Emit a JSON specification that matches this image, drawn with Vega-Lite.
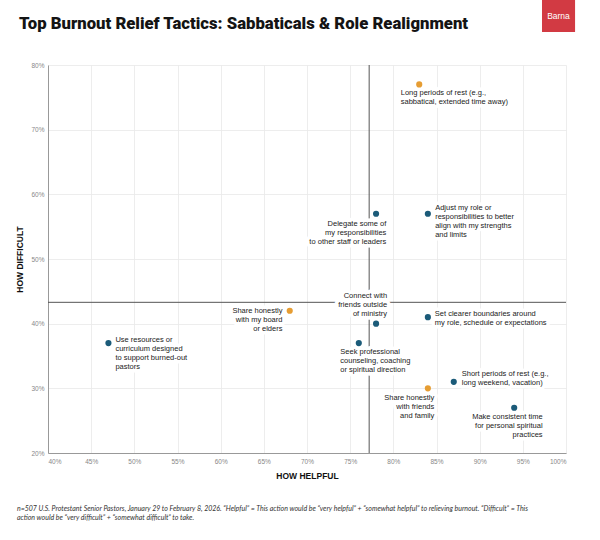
{
  "$schema": "https://vega.github.io/schema/vega-lite/v6.json",
  "description": "Top Burnout Relief Tactics: Sabbaticals & Role Realignment",
  "width": 518,
  "height": 388,
  "autosize": {"type": "none"},
  "padding": {"left": 48, "top": 65, "right": 34, "bottom": 87},
  "background": "white",
  "config": {"view": {"stroke": null}, "font": "Liberation Sans"},
  "datasets": {
    "tactics": [
      {"tactic": "Long periods of rest (e.g.,\nsabbatical, extended time away)", "helpful": 0.83, "difficult": 0.77, "highlight": "yes"},
      {"tactic": "Delegate some of\nmy responsibilities\nto other staff or leaders", "helpful": 0.78, "difficult": 0.57, "highlight": "no"},
      {"tactic": "Adjust my role or\nresponsibilities to better\nalign with my strengths\nand limits", "helpful": 0.84, "difficult": 0.57, "highlight": "no"},
      {"tactic": "Share honestly\nwith my board\nor elders", "helpful": 0.68, "difficult": 0.42, "highlight": "yes"},
      {"tactic": "Connect with\nfriends outside\nof ministry", "helpful": 0.78, "difficult": 0.40, "highlight": "no"},
      {"tactic": "Set clearer boundaries around\nmy role, schedule or expectations", "helpful": 0.84, "difficult": 0.41, "highlight": "no"},
      {"tactic": "Use resources or\ncurriculum designed\nto support burned-out\npastors", "helpful": 0.47, "difficult": 0.37, "highlight": "no"},
      {"tactic": "Seek professional\ncounseling, coaching\nor spiritual direction", "helpful": 0.76, "difficult": 0.37, "highlight": "no"},
      {"tactic": "Short periods of rest (e.g.,\nlong weekend, vacation)", "helpful": 0.87, "difficult": 0.31, "highlight": "no"},
      {"tactic": "Share honestly\nwith friends\nand family", "helpful": 0.84, "difficult": 0.30, "highlight": "yes"},
      {"tactic": "Make consistent time\nfor personal spiritual\npractices", "helpful": 0.94, "difficult": 0.27, "highlight": "no"}
    ]
  },
  "data": {"name": "tactics"},
  "layer": [
    {
      "mark": {"type": "point", "opacity": 0},
      "encoding": {
        "x": {"field": "helpful", "type": "quantitative", "title": "HOW HELPFUL",
          "scale": {"domain": [0.4, 1], "nice": false, "zero": false},
          "axis": {"values": [0.4,0.45,0.5,0.55,0.6,0.65,0.7,0.75,0.8,0.85,0.9,0.95,1.0], "format": ".0%",
            "ticks": false, "labelPadding": 5, "labelFontSize": 6.5, "labelColor": "#888", "labelFont": "Liberation Sans",
            "domainColor": "#999", "domainWidth": 1, "gridColor": "#e8e8e8", "gridWidth": 0.8,
            "titleFont": "Liberation Sans", "titleFontSize": 8.5, "titleFontWeight": "bold", "titleColor": "#111", "titlePadding": 7}},
        "y": {"field": "difficult", "type": "quantitative", "title": "HOW DIFFICULT",
          "scale": {"domain": [0.2, 0.8], "nice": false, "zero": false},
          "axis": {"values": [0.2,0.3,0.4,0.5,0.6,0.7,0.8], "format": ".0%",
            "ticks": false, "labelPadding": 4, "labelFontSize": 6.5, "labelColor": "#888", "labelFont": "Liberation Sans",
            "domainColor": "#999", "domainWidth": 1, "gridColor": "#e8e8e8", "gridWidth": 0.8,
            "titleFont": "Liberation Sans", "titleFontSize": 8.5, "titleFontWeight": "bold", "titleColor": "#111", "titlePadding": 6}}
      }
    },
    {
      "data": {"values": [{}]},
      "mark": {"type": "rule", "color": "#555", "strokeWidth": 1},
      "encoding": {"x": {"datum": 0.772, "type": "quantitative", "scale": {"domain": [0.4, 1], "nice": false, "zero": false}}}
    },
    {
      "data": {"values": [{}]},
      "mark": {"type": "rule", "color": "#555", "strokeWidth": 1},
      "encoding": {"y": {"datum": 0.433, "type": "quantitative", "scale": {"domain": [0.2, 0.8], "nice": false, "zero": false}}}
    },
    {
      "encoding": {
        "x": {"field": "helpful", "type": "quantitative", "scale": {"domain": [0.4, 1], "nice": false, "zero": false}},
        "y": {"field": "difficult", "type": "quantitative", "scale": {"domain": [0.2, 0.8], "nice": false, "zero": false}},
        "text": {"field": "tactic", "type": "nominal"}
      },
      "layer": [
        {"transform": [{"filter": {"field": "tactic", "oneOf": ["Set clearer boundaries around\nmy role, schedule or expectations", "Use resources or\ncurriculum designed\nto support burned-out\npastors"]}}],
         "layer": [
          {"mark": {"type": "text", "align": "left", "baseline": "top", "dx": 7, "dy": -7, "fontSize": 7.5, "lineHeight": 9, "lineBreak": "\n", "fill": "white", "stroke": "white", "strokeWidth": 7, "strokeJoin": "round"}},
          {"mark": {"type": "text", "align": "left", "baseline": "top", "dx": 7, "dy": -7, "fontSize": 7.5, "lineHeight": 9, "lineBreak": "\n", "color": "#222"}}
         ]},
        {"transform": [{"filter": {"field": "tactic", "oneOf": ["Long periods of rest (e.g.,\nsabbatical, extended time away)", "Seek professional\ncounseling, coaching\nor spiritual direction"]}}],
         "layer": [
          {"mark": {"type": "text", "align": "left", "baseline": "top", "dx": -18.5, "dy": 5, "fontSize": 7.5, "lineHeight": 9, "lineBreak": "\n", "fill": "white", "stroke": "white", "strokeWidth": 7, "strokeJoin": "round"}},
          {"mark": {"type": "text", "align": "left", "baseline": "top", "dx": -18.5, "dy": 5, "fontSize": 7.5, "lineHeight": 9, "lineBreak": "\n", "color": "#222"}}
         ]},
        {"transform": [{"filter": {"field": "tactic", "equal": "Adjust my role or\nresponsibilities to better\nalign with my strengths\nand limits"}}],
         "layer": [
          {"mark": {"type": "text", "align": "left", "baseline": "top", "dx": 7.3, "dy": -9.3, "fontSize": 7.5, "lineHeight": 9, "lineBreak": "\n", "fill": "white", "stroke": "white", "strokeWidth": 7, "strokeJoin": "round"}},
          {"mark": {"type": "text", "align": "left", "baseline": "top", "dx": 7.3, "dy": -9.3, "fontSize": 7.5, "lineHeight": 9, "lineBreak": "\n", "color": "#222"}}
         ]},
        {"transform": [{"filter": {"field": "tactic", "equal": "Short periods of rest (e.g.,\nlong weekend, vacation)"}}],
         "layer": [
          {"mark": {"type": "text", "align": "left", "baseline": "top", "dx": 8, "dy": -12.3, "fontSize": 7.5, "lineHeight": 9, "lineBreak": "\n", "fill": "white", "stroke": "white", "strokeWidth": 7, "strokeJoin": "round"}},
          {"mark": {"type": "text", "align": "left", "baseline": "top", "dx": 8, "dy": -12.3, "fontSize": 7.5, "lineHeight": 9, "lineBreak": "\n", "color": "#222"}}
         ]},
        {"transform": [{"filter": {"field": "tactic", "equal": "Delegate some of\nmy responsibilities\nto other staff or leaders"}}],
         "layer": [
          {"mark": {"type": "text", "align": "right", "baseline": "top", "dx": 10.3, "dy": 6, "fontSize": 7.5, "lineHeight": 9, "lineBreak": "\n", "fill": "white", "stroke": "white", "strokeWidth": 7, "strokeJoin": "round"}},
          {"mark": {"type": "text", "align": "right", "baseline": "top", "dx": 10.3, "dy": 6, "fontSize": 7.5, "lineHeight": 9, "lineBreak": "\n", "color": "#222"}}
         ]},
        {"transform": [{"filter": {"field": "tactic", "equal": "Share honestly\nwith my board\nor elders"}}],
         "layer": [
          {"mark": {"type": "text", "align": "right", "baseline": "top", "dx": -7.3, "dy": -4, "fontSize": 7.5, "lineHeight": 9, "lineBreak": "\n", "fill": "white", "stroke": "white", "strokeWidth": 7, "strokeJoin": "round"}},
          {"mark": {"type": "text", "align": "right", "baseline": "top", "dx": -7.3, "dy": -4, "fontSize": 7.5, "lineHeight": 9, "lineBreak": "\n", "color": "#222"}}
         ]},
        {"transform": [{"filter": {"field": "tactic", "equal": "Connect with\nfriends outside\nof ministry"}}],
         "layer": [
          {"mark": {"type": "text", "align": "right", "baseline": "top", "dx": 11, "dy": -31.4, "fontSize": 7.5, "lineHeight": 9, "lineBreak": "\n", "fill": "white", "stroke": "white", "strokeWidth": 7, "strokeJoin": "round"}},
          {"mark": {"type": "text", "align": "right", "baseline": "top", "dx": 11, "dy": -31.4, "fontSize": 7.5, "lineHeight": 9, "lineBreak": "\n", "color": "#222"}}
         ]},
        {"transform": [{"filter": {"field": "tactic", "equal": "Share honestly\nwith friends\nand family"}}],
         "layer": [
          {"mark": {"type": "text", "align": "right", "baseline": "top", "dx": 6.4, "dy": 5.3, "fontSize": 7.5, "lineHeight": 9, "lineBreak": "\n", "fill": "white", "stroke": "white", "strokeWidth": 7, "strokeJoin": "round"}},
          {"mark": {"type": "text", "align": "right", "baseline": "top", "dx": 6.4, "dy": 5.3, "fontSize": 7.5, "lineHeight": 9, "lineBreak": "\n", "color": "#222"}}
         ]},
        {"transform": [{"filter": {"field": "tactic", "equal": "Make consistent time\nfor personal spiritual\npractices"}}],
         "layer": [
          {"mark": {"type": "text", "align": "right", "baseline": "top", "dx": 28.4, "dy": 5, "fontSize": 7.5, "lineHeight": 9, "lineBreak": "\n", "fill": "white", "stroke": "white", "strokeWidth": 7, "strokeJoin": "round"}},
          {"mark": {"type": "text", "align": "right", "baseline": "top", "dx": 28.4, "dy": 5, "fontSize": 7.5, "lineHeight": 9, "lineBreak": "\n", "color": "#222"}}
         ]}
      ]
    },
    {
      "mark": {"type": "circle", "size": 38, "opacity": 1},
      "encoding": {
        "x": {"field": "helpful", "type": "quantitative", "scale": {"domain": [0.4, 1], "nice": false, "zero": false}},
        "y": {"field": "difficult", "type": "quantitative", "scale": {"domain": [0.2, 0.8], "nice": false, "zero": false}},
        "color": {"field": "highlight", "type": "nominal", "scale": {"domain": ["no", "yes"], "range": ["#1b5b79", "#e69d33"]}, "legend": null}
      }
    },
    {
      "data": {"values": [{}]},
      "mark": {"type": "text", "text": "Top Burnout Relief Tactics: Sabbaticals & Role Realignment", "font": "Roboto", "fontSize": 16.7, "fontWeight": 900, "color": "#141414", "align": "left", "baseline": "alphabetic"},
      "encoding": {
        "x": {"datum": 0.3664, "type": "quantitative", "scale": {"domain": [0.4, 1], "nice": false, "zero": false}},
        "y": {"datum": 0.8557, "type": "quantitative", "scale": {"domain": [0.2, 0.8], "nice": false, "zero": false}}
      }
    },
    {
      "data": {"values": [{}]},
      "mark": {"type": "rect", "color": "#d23a43"},
      "encoding": {
        "x": {"datum": 0.9722, "type": "quantitative", "scale": {"domain": [0.4, 1], "nice": false, "zero": false}},
        "x2": {"datum": 1.0105},
        "y": {"datum": 0.851, "type": "quantitative", "scale": {"domain": [0.2, 0.8], "nice": false, "zero": false}},
        "y2": {"datum": 1.1005}
      }
    },
    {
      "data": {"values": [{}]},
      "mark": {"type": "text", "text": "Barna", "color": "white", "fontSize": 8.5, "font": "Liberation Sans", "align": "center", "baseline": "middle"},
      "encoding": {
        "x": {"datum": 0.9913, "type": "quantitative", "scale": {"domain": [0.4, 1], "nice": false, "zero": false}},
        "y": {"datum": 0.8758, "type": "quantitative", "scale": {"domain": [0.2, 0.8], "nice": false, "zero": false}}
      }
    },
    {
      "data": {"values": [{}]},
      "mark": {"type": "text", "text": "n=507 U.S. Protestant Senior Pastors, January 29 to February 8, 2026. “Helpful” = This action would be “very helpful” + “somewhat helpful” to relieving burnout. “Difficult” = This\naction would be “very difficult” + “somewhat difficult” to take.",
        "lineBreak": "\n", "lineHeight": 9.6, "font": "Lato", "fontStyle": "italic", "fontSize": 7, "color": "#333", "align": "left", "baseline": "top"},
      "encoding": {
        "x": {"datum": 0.364, "type": "quantitative", "scale": {"domain": [0.4, 1], "nice": false, "zero": false}},
        "y": {"datum": 0.1199, "type": "quantitative", "scale": {"domain": [0.2, 0.8], "nice": false, "zero": false}}
      }
    }
  ]
}
